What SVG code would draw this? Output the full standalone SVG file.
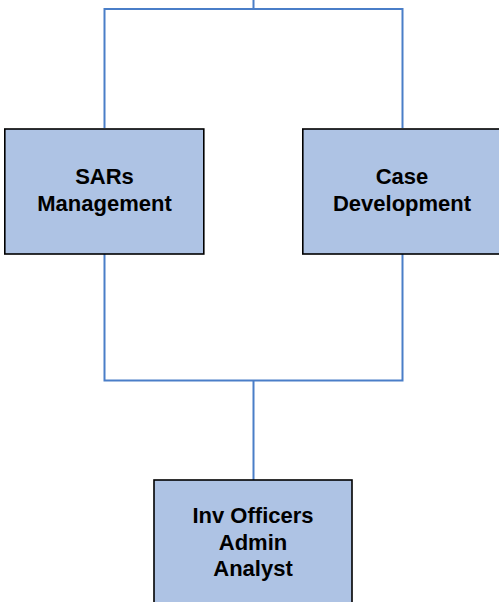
<svg xmlns="http://www.w3.org/2000/svg" width="499" height="602" viewBox="0 0 499 602">
<style>
.box{fill:#aec3e4;stroke:#000;stroke-width:1.6}
.lbl{font-family:"Liberation Sans",Arial,sans-serif;font-weight:bold;font-size:22px;fill:#000;text-anchor:middle}
.con{fill:none;stroke:#4a7ec8;stroke-width:2}
</style>
<rect width="499" height="602" fill="#fff"/>
<g id="connectors">
<path class="con" d="M253.5,0 V9 M104.5,128 V9 H402.5 V128"/>
<path class="con" d="M104.5,254 V380.5 H402.5 V254 M253.5,380.5 V480"/>
</g>
<g id="sars">
<rect class="box" x="4.8" y="129" width="199" height="125"/>
<text class="lbl" x="104.5" y="184">SARs</text>
<text class="lbl" x="104.5" y="211">Management</text>
</g>
<g id="case">
<rect class="box" x="302.8" y="129" width="200" height="125"/>
<text class="lbl" x="402" y="184">Case</text>
<text class="lbl" x="402" y="211">Development</text>
</g>
<g id="inv">
<rect class="box" x="154" y="480" width="198" height="130"/>
<text class="lbl" x="253" y="523">Inv Officers</text>
<text class="lbl" x="253" y="550">Admin</text>
<text class="lbl" x="253" y="576">Analyst</text>
</g>
</svg>
